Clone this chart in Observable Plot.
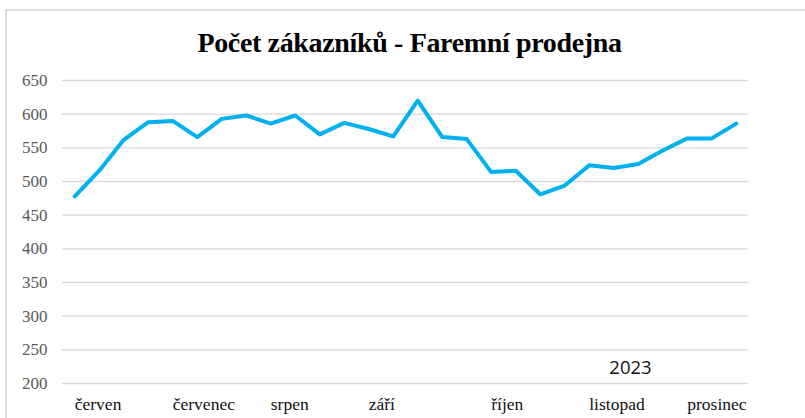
<!DOCTYPE html>
<html>
<head>
<meta charset="utf-8">
<script src="https://cdn.jsdelivr.net/npm/d3@7"></script>
<script src="https://cdn.jsdelivr.net/npm/@observablehq/plot@0.6"></script>
<style>
  body { margin: 0; background: #fff; }
  #wrap { position: relative; width: 805px; height: 418px; overflow: hidden; background: #fff; }
  #frame { position: absolute; left: 5px; top: 9px; width: 900px; height: 500px;
           border-left: 2px solid #dedede; border-top: 2px solid #dedede; }
  #title { position: absolute; left: 7px; top: 29px; width: 805px; text-align: center;
           font-family: "Liberation Serif", "Times New Roman", serif; font-weight: bold;
           font-size: 28px; line-height: 28px; letter-spacing: -0.35px; color: #000; white-space: nowrap; }
  #chart { position: absolute; left: 0; top: 0; }
</style>
</head>
<body>
<div id="wrap">
  <div id="frame"></div>
  <div id="chart"></div>
  <div id="title">Počet zákazníků - Faremní prodejna</div>
</div>
<script>
// Months shown on the axis and number of weekly points in each month
const months = ["červen", "červenec", "srpen", "září", "říjen", "listopad", "prosinec"];
const weeksPerMonth = [4, 4, 4, 5, 4, 4, 3];
// Weekly customer counts
const values = [478, 516, 562, 588, 590, 566, 593, 598, 586, 598, 570, 587, 578, 567,
                620, 566, 563, 514, 516, 481, 494, 524, 520, 526, 546, 564, 564, 586];
const yTicks = [200, 250, 300, 350, 400, 450, 500, 550, 600, 650];
const yearLabel = "2023";

// Build weekly categories from the months
const weeks = [];
const firstWeeks = [];
const monthOfWeek = {};
months.forEach((m, mi) => {
  for (let w = 1; w <= weeksPerMonth[mi]; w++) {
    const key = m + " " + w;
    weeks.push(key);
    if (w === 1) { firstWeeks.push(key); monthOfWeek[key] = m; }
  }
});
const data = values.map((v, i) => ({week: weeks[i], value: v}));

const chart = Plot.plot({
  width: 805,
  height: 418,
  marginLeft: 62,
  marginRight: 57,
  marginTop: 80,
  marginBottom: 35,
  style: {fontFamily: "'Liberation Serif', 'Times New Roman', serif", fontSize: "17px", background: "transparent"},
  x: {type: "point", domain: weeks, padding: 0.5, round: false, axis: null, label: null},
  y: {domain: [200, 650], axis: null, label: null},
  marks: [
    Plot.gridY(yTicks, {stroke: "#d9d9d9", strokeOpacity: 1, strokeWidth: 1.3}),
    Plot.axisY(yTicks, {tickSize: 0, tickPadding: 15, color: "#595959", fontSize: 17, label: null}),
    Plot.axisX(firstWeeks, {tickSize: 0, tickPadding: 14, textAnchor: "start", color: "#111",
                            fontSize: 17.5, label: null, tickFormat: d => monthOfWeek[d]}),
    Plot.line(data, {x: "week", y: "value", stroke: "#00b0f0", strokeWidth: 4,
                     strokeLinejoin: "round", strokeLinecap: "round"}),
    Plot.text([yearLabel], {text: d => d, frameAnchor: "bottom-right", dx: -118, dy: -10,
                            textAnchor: "middle", fontFamily: "'Open Sans', sans-serif",
                            fontSize: 18.5, fill: "#111"})
  ]
});
document.getElementById("chart").appendChild(chart);
</script>
</body>
</html>
